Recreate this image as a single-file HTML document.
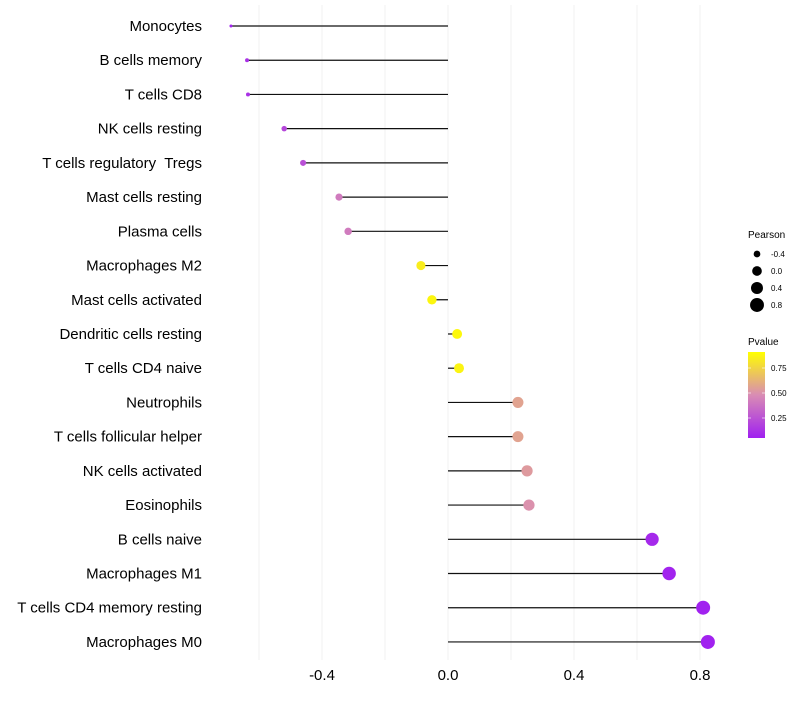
<!DOCTYPE html>
<html><head><meta charset="utf-8"><style>
body{margin:0;background:#fff;font-family:"Liberation Sans",Arial,sans-serif}
text{white-space:pre}
</style></head><body>
<svg id="chart" width="800" height="700" xmlns="http://www.w3.org/2000/svg" font-family="Liberation Sans, Arial, sans-serif">
<defs><linearGradient id="pg" x1="0" y1="1" x2="0" y2="0">
<stop offset="0" stop-color="#a020f0"/><stop offset="0.5" stop-color="#d98cb4"/><stop offset="1" stop-color="#ffff00"/></linearGradient></defs>
<g id="grid"></g><g id="marks"></g><g id="labels"></g><g id="legend"></g>
</svg>
<script>
const categories=["Monocytes","B cells memory","T cells CD8","NK cells resting","T cells regulatory  Tregs","Mast cells resting","Plasma cells","Macrophages M2","Mast cells activated","Dendritic cells resting","T cells CD4 naive","Neutrophils","T cells follicular helper","NK cells activated","Eosinophils","B cells naive","Macrophages M1","T cells CD4 memory resting","Macrophages M0"];
const pearson=[-0.689,-0.638,-0.635,-0.52,-0.46,-0.346,-0.317,-0.086,-0.051,0.029,0.035,0.222,0.222,0.251,0.257,0.648,0.702,0.81,0.825];
const pvalue=[0.02,0.08,0.08,0.18,0.22,0.42,0.42,0.92,0.96,0.97,0.95,0.6,0.6,0.56,0.52,0.04,0.02,0.01,0.01];
const xTicks=[-0.4,0.0,0.4,0.8];
const xMinor=[-0.6,-0.2,0.2,0.6];
const sizeLegend=[-0.4,0.0,0.4,0.8];
const pTicks=[0.25,0.5,0.75];
const NS="http://www.w3.org/2000/svg";
const X=v=>448+v*315;
const Y=i=>26+i*34.22;
const R=v=>Math.sqrt(Math.max(1.5,2.25+(v+0.69)*30.96));
function lerp(a,b,t){return a.map((c,k)=>Math.round(c+(b[k]-c)*t));}
function col(p){const s=[[160,32,240],[217,140,180],[255,255,0]];const c=p<0.5?lerp(s[0],s[1],p/0.5):lerp(s[1],s[2],(p-0.5)/0.5);return `rgb(${c.join(',')})`;}
function el(t,a,parent,txt){const e=document.createElementNS(NS,t);for(const k in a)e.setAttribute(k,a[k]);if(txt!==undefined)e.textContent=txt;document.getElementById(parent).appendChild(e);return e;}
xMinor.concat(xTicks).forEach(v=>{const l=el('line',{x1:X(v),x2:X(v),y1:5,y2:660,stroke:'#f2f2f2','stroke-width':1},'grid');

});
xTicks.forEach(v=>{const t=el('text',{x:X(v),y:680,'text-anchor':'middle','font-size':15,fill:'#000'},'labels',v.toFixed(1));

});
categories.forEach((c,i)=>{const t=el('text',{x:202,y:Y(i)+5,'text-anchor':'end','font-size':15,fill:'#000'},'labels',c);


const l=el('line',{x1:X(0),x2:X(pearson[i]),y1:Y(i),y2:Y(i),stroke:'#111','stroke-width':1.2},'marks');


const d=el('circle',{cx:X(pearson[i]),cy:Y(i),r:R(pearson[i]),fill:col(pvalue[i])},'marks');

});
let t=el('text',{x:748,y:238,'font-size':10},'legend','Pearson');


sizeLegend.forEach((v,k)=>{const y=254+k*17;const c=el('circle',{cx:757,cy:y,r:R(v),fill:'#000'},'legend');


const tt=el('text',{x:771,y:y+3,'font-size':8},'legend',v.toFixed(1));

});
t=el('text',{x:748,y:345,'font-size':10},'legend','Pvalue');


const bar=el('rect',{x:748,y:352,width:17,height:86,fill:'url(#pg)'},'legend');


pTicks.forEach(p=>{const y=443-p*100;const tt=el('text',{x:771,y:y+3,'font-size':8},'legend',p.toFixed(2));


el('line',{x1:748,x2:751,y1:y,y2:y,stroke:'#fff','stroke-opacity':0.6},'legend');
el('line',{x1:762,x2:765,y1:y,y2:y,stroke:'#fff','stroke-opacity':0.6},'legend');});
</script>
</body></html>
